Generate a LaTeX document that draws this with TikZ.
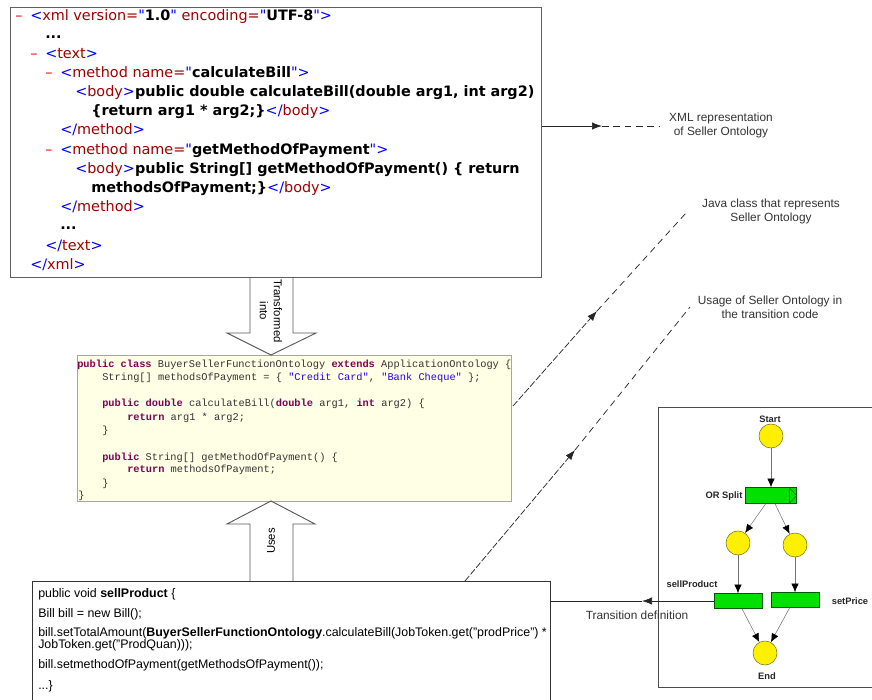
\documentclass[tikz,border=0pt]{standalone}
\usepackage{fontspec}
\setmainfont{Liberation Sans}
\setmonofont{Liberation Mono}
\newfontfamily\xmlfont{DejaVu Sans}
\usepackage{xcolor}
\usetikzlibrary{arrows.meta}

\definecolor{xmltagred}{RGB}{160,0,0}
\definecolor{xmldashred}{RGB}{235,0,0}
\definecolor{xmlblue}{RGB}{0,0,255}
\definecolor{javakey}{RGB}{127,0,85}
\definecolor{javastr}{RGB}{42,0,255}
\definecolor{javabg}{RGB}{255,255,230}
\definecolor{placefill}{RGB}{255,240,0}
\definecolor{transfill}{RGB}{0,225,0}

\newcommand{\xdsh}{\makebox[11.25pt][l]{\textcolor{xmldashred}{\textendash}}}
\newcommand{\xtag}[1]{\textcolor{xmlblue}{<}\textcolor{xmltagred}{#1}}
\newcommand{\xgt}{\textcolor{xmlblue}{>}}
\newcommand{\xval}[1]{\textcolor{xmlblue}{"}\textbf{#1}\textcolor{xmlblue}{"}}
\newcommand{\xendtag}[1]{\textcolor{xmlblue}{</}\textcolor{xmltagred}{#1}\textcolor{xmlblue}{>}}
\newcommand{\jkw}[1]{\textcolor{javakey}{\textbf{#1}}}
\newcommand{\jstr}[1]{\textcolor{javastr}{#1}}

\begin{document}
\begin{tikzpicture}[x=0.75pt,y=-0.75pt,
  panel/.style={draw=gray!75!black, anchor=north west, inner sep=0},
  xmlline/.style={anchor=base west, inner sep=0, font=\xmlfont\fontsize{10.8}{13}\selectfont},
  javaline/.style={anchor=base west, inner sep=0, text=black!80, font=\ttfamily\fontsize{7.75}{9}\selectfont},
  codeline/.style={anchor=base west, inner sep=0, font=\fontsize{9.3}{10.5}\selectfont},
  note/.style={align=center, text=black!80, font=\fontsize{8.9}{10.5}\selectfont},
  wflabel/.style={inner sep=0, text=black!85, font=\bfseries\fontsize{7}{8}\selectfont},
  place/.style={circle, draw=olive!80!black, fill=placefill, minimum size=18pt, inner sep=0},
  trans/.style={rectangle, draw=green!35!black, fill=transfill, minimum width=36pt, minimum height=11.25pt, inner sep=0},
  flow/.style={draw=black!55, -{Latex[length=6.5pt,width=5.5pt,color=black]}},
  bigarrow/.style={draw=black!65, line width=0.7pt},
  ptr/.style={black!85, line width=0.55pt, -{Latex[length=7.5pt,width=5.5pt]}}]
\useasboundingbox (0,0) rectangle (872,700);

% XML document
\node[panel, line width=1pt, minimum width=398.25pt, minimum height=202.5pt] (xmlbox) at (10,7) {};
\node[xmlline] (x1) at (15,20.5) {\xdsh\xtag{xml version=}\xval{1.0} \textcolor{xmltagred}{encoding=}\xval{UTF-8}\xgt};
\node[xmlline] (x2) at (45,38) {\textbf{...}};
\node[xmlline] (x3) at (30,58.5) {\xdsh\xtag{text}\xgt};
\node[xmlline] (x4) at (45,77.5) {\xdsh\xtag{method name=}\xval{calculateBill}\xgt};
\node[xmlline] (x5) at (75,96.5) {\xtag{body}\xgt\textbf{public double calculateBill(double arg1, int arg2)}};
\node[xmlline] (x6) at (91,115.5) {\textbf{\{return arg1 * arg2;\}}\xendtag{body}};
\node[xmlline] (x7) at (60,134.5) {\xendtag{method}};
\node[xmlline] (x8) at (45,154.5) {\xdsh\xtag{method name=}\xval{getMethodOfPayment}\xgt};
\node[xmlline] (x9) at (75,173.5) {\xtag{body}\xgt\textbf{public String[] getMethodOfPayment() \{ return}};
\node[xmlline] (x10) at (91,192.5) {\textbf{methodsOfPayment;\}}\xendtag{body}};
\node[xmlline] (x11) at (60,211.5) {\xendtag{method}};
\node[xmlline] (x12) at (60,229) {\textbf{...}};
\node[xmlline] (x13) at (45,250.5) {\xendtag{text}};
\node[xmlline] (x14) at (30,269.5) {\xendtag{xml}};

% Java class
\node[panel, draw=gray!70, fill=javabg, minimum width=325.5pt, minimum height=109.5pt] (javabox) at (77,355) {};
\node[javaline] (j1) at (77,367) {\jkw{public} \jkw{class} BuyerSellerFunctionOntology \jkw{extends} ApplicationOntology \{};
\node[javaline] (j2) at (102,380) {String[] methodsOfPayment = \{ \jstr{"Credit Card"}, \jstr{"Bank Cheque"} \};};
\node[javaline] (j3) at (102,406) {\jkw{public} \jkw{double} calculateBill(\jkw{double} arg1, \jkw{int} arg2) \{};
\node[javaline] (j4) at (127,420) {\jkw{return} arg1 * arg2;};
\node[javaline] (j5) at (102,433) {\}};
\node[javaline] (j6) at (102,460) {\jkw{public} String[] getMethodOfPayment() \{};
\node[javaline] (j7) at (127,472) {\jkw{return} methodsOfPayment;};
\node[javaline] (j8) at (102,486) {\}};
\node[javaline] (j9) at (78,498) {\}};

% transition code
\node[panel, draw=black!80, minimum width=388.5pt, minimum height=93pt] (codebox) at (32,581) {};
\node[codeline] (c1) at (38,597.5) {public void \textbf{sellProduct} \{};
\node[codeline] (c2) at (38,617.5) {Bill bill = new Bill();};
\node[codeline] (c3) at (38,636.5) {bill.setTotalAmount(\textbf{BuyerSellerFunctionOntology}.calculateBill(JobToken.get("prodPrice") *};
\node[codeline] (c4) at (38,648.5) {JobToken.get("ProdQuan)));};
\node[codeline] (c5) at (38,668.5) {bill.setmethodOfPayment(getMethodsOfPayment());};
\node[codeline] (c6) at (38,689.5) {...\}};

% block arrows
\draw[bigarrow] (250,277) -- (250,333) -- (227,333) -- (271,355) -- (316,333) -- (293,333) -- (293,277);
\node[rotate=-90, align=center, inner sep=0, font=\fontsize{8.5}{10.5}\selectfont] (transf) at (271,311) {Transformed\\into};
\draw[bigarrow] (250,581) -- (250,524) -- (227,524) -- (271,501) -- (315,524) -- (293,524) -- (293,581);
\node[rotate=90, inner sep=0, font=\fontsize{8.5}{10}\selectfont] (uses) at (271,541) {Uses};

% notes
\node[note] (xmlnote) at (721,125) {XML representation\\of Seller Ontology};
\node[note] (javanote) at (771,211) {Java class that represents\\Seller Ontology};
\node[note] (usagenote) at (770,307) {Usage of Seller Ontology in\\the transition code};

\coordinate (xmlmid) at (602,126);
\draw[ptr] (xmlbox.east |- xmlmid) -- (xmlmid);
\draw[black!85, line width=0.55pt, dash pattern=on 5pt off 3.5pt] (xmlmid) -- (660,126);

\coordinate (javaout) at (513,406);
\coordinate (javamid) at (597,311);
\draw[ptr, dash pattern=on 5pt off 1.5pt] (javaout) -- (javamid);
\draw[black!85, line width=0.55pt, dash pattern=on 5pt off 3.5pt] (javamid) -- (686,213);

\coordinate (usageout) at (465,581);
\coordinate (usagemid) at (575,450);
\draw[ptr, dash pattern=on 5pt off 1.5pt] (usageout) -- (usagemid);
\draw[black!85, line width=0.55pt, dash pattern=on 5pt off 3.5pt] (usagemid) -- (690,307);

% workflow
\node[panel, draw=gray!60!black, minimum width=166.5pt, minimum height=210pt] (wfbox) at (658,407) {};
\node[place] (start) at (771,436) {};
\node[wflabel] (startlbl) at (770,419) {Start};
\node[trans, minimum width=38.25pt, minimum height=12pt] (orsplit) at (771,495.5) {};
\draw[green!35!black] ([xshift=-6pt]orsplit.north east) -- ([xshift=-6pt]orsplit.south east);
\draw[green!35!black] ([xshift=-6pt]orsplit.north east) -- (orsplit.east) -- ([xshift=-6pt]orsplit.south east);
\node[wflabel] (orlbl) at (724,496) {OR Split};
\node[place] (left) at (738,543) {};
\node[place] (right) at (795,545) {};
\node[trans] (sellprod) at (738,601) {};
\node[wflabel] (selllbl) at (692,584) {sellProduct};
\node[trans] (setprice) at (795,600) {};
\node[wflabel] (setlbl) at (850,601) {setPrice};
\node[place] (end) at (765,653) {};
\node[wflabel] (endlbl) at (767,676) {End};

\draw[flow] (start) -- (orsplit);
\draw[flow] ([xshift=-4pt]orsplit.south) -- (left);
\draw[flow] ([xshift=3pt]orsplit.south) -- (right);
\draw[flow] (left) -- (sellprod);
\draw[flow] (right) -- (setprice);
\draw[flow] ([xshift=3pt]sellprod.south) -- (end);
\draw[flow] ([xshift=-4pt]setprice.south) -- (end);

% transition definition
\coordinate (tdmid) at (642,601);
\draw[ptr] (sellprod.west) -- (tdmid);
\draw[black!85, line width=0.55pt] (tdmid) -- (codebox.east |- tdmid);
\node[note] (tdlbl) at (637,615) {Transition definition};
\end{tikzpicture}
\end{document}
